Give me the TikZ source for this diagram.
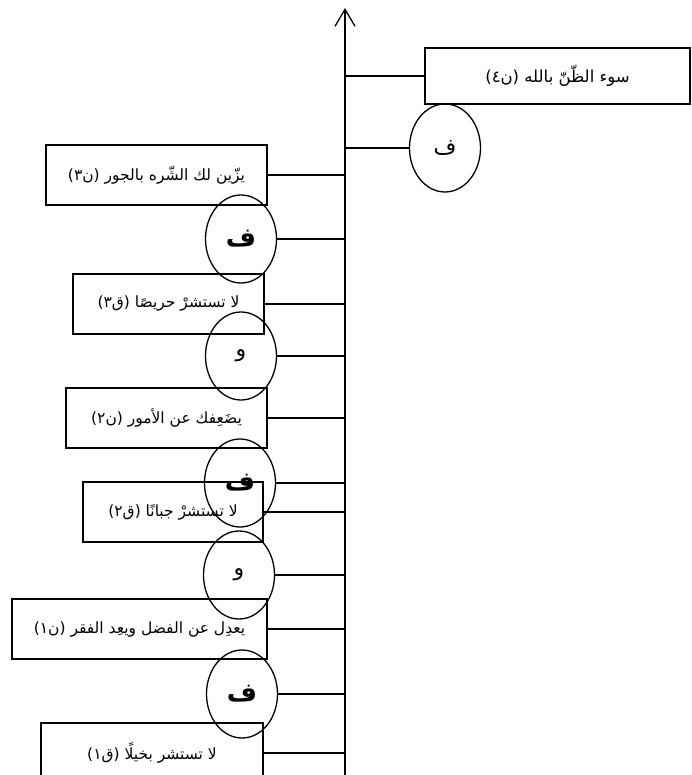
\documentclass[tikz,border=0pt]{standalone}
\usepackage{fontspec}
\newfontfamily\arabicfont[Script=Arabic]{DejaVu Sans}
\TeXXeTstate=1
\usetikzlibrary{shapes.geometric,arrows.meta}

\begin{document}
\begin{tikzpicture}[x=1pt,y=-1pt,line width=1.3pt]
\tikzstyle{every node}=[text centered, inner sep=0pt, font=\arabicfont\fontsize{15.5}{18}\selectfont]
\tikzstyle{saying} = [draw, rectangle, minimum height=60pt];
\tikzstyle{joint} = [draw, ellipse, minimum width=71pt, minimum height=88pt, font=\arabicfont\fontsize{22}{24}\selectfont];
\tikzstyle{strong} = [font=\arabicfont\bfseries\fontsize{26}{28}\selectfont];
\useasboundingbox (0,0) rectangle (691,775);
\coordinate (bottom) at (345,775);
\coordinate (top) at (345,8);
\draw[line width=1.5pt, -{Straight Barb[length=17pt,width=20pt,line width=1.3pt]}] (bottom) -- (top);
% right side
\node[saying, minimum width=265pt, minimum height=56pt, font=\arabicfont\fontsize{16.5}{19}\selectfont] (n4) at (557.5,76) {\beginR سوء الظّنّ بالله (ن٤)\endR};
\node[joint] (fa4) at (445,148) {ف};
% left side
\node[saying, minimum width=221pt] (n3) at (156.5,175) {\beginR يزّين لك الشّره بالجور (ن٣)\endR};
\node[joint, strong] (fa3) at (241,239) {ف};
\node[saying, minimum width=191pt] (q3) at (168.5,304) {\beginR لا تستشرْ حريصًا (ق٣)\endR};
\node[joint] (wa2) at (241,356) {و};
\node[saying, minimum width=201pt] (n2) at (166.5,418) {\beginR يضَعِفك عن الأمور (ن٢)\endR};
\node[joint, strong] (fa2) at (240,483) {ف};
\node[saying, minimum width=180pt] (q2) at (173,512) {\beginR لا تستشرْ جبانًا (ق٢)\endR};
\node[joint] (wa1) at (239,575) {و};
\node[saying, minimum width=255pt] (n1) at (139.5,629) {\beginR يعدِل عن الفضل ويعِد الفقر (ن١)\endR};
\node[joint, strong] (fa1) at (242,694) {ف};
\node[saying, minimum width=222pt] (q1) at (152,753) {\beginR لا تستشر بخيلًا (ق١)\endR};
% links to the axis
\draw (n4.west) -- (n4.west -| top);
\draw (fa4.west) -- (fa4.west -| top);
\foreach \part in {n3,fa3,q3,wa2,n2,fa2,q2,wa1,n1,fa1,q1}
  \draw (\part.east) -- (\part.east -| top);
\end{tikzpicture}
\end{document}
